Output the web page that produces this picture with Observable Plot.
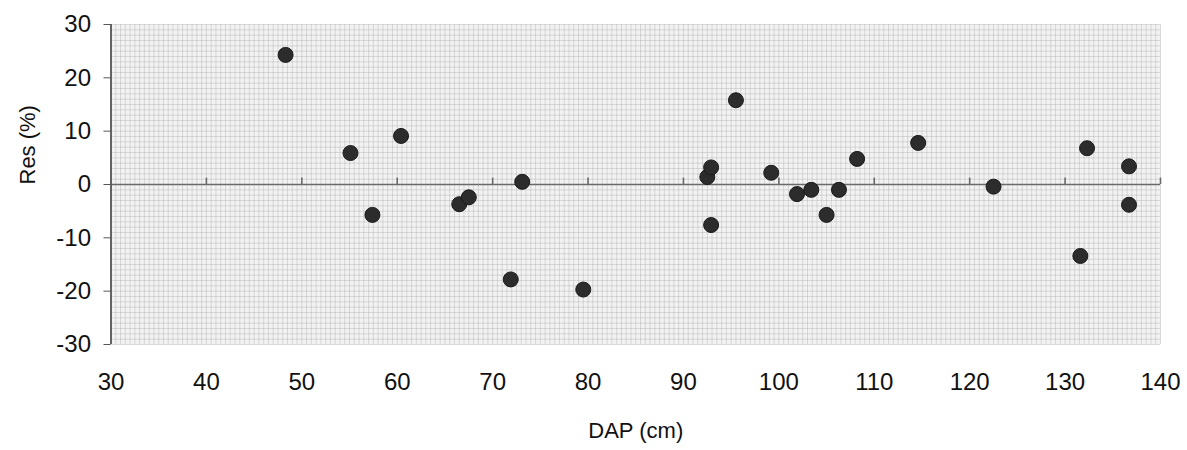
<!DOCTYPE html>
<html>
<head>
<meta charset="utf-8">
<script src="https://cdn.jsdelivr.net/npm/d3@7"></script>
<script src="https://cdn.jsdelivr.net/npm/@observablehq/plot@0.6"></script>
<style>
  html, body { margin: 0; padding: 0; background: #fff; }
  #chart { width: 1187px; height: 450px; }
</style>
</head>
<body>
<div id="chart"></div>
<script>
// Data (DAP in cm, residual in %)
const dap = [48.3, 55.1, 57.4, 60.4, 66.5, 67.5, 71.9, 73.1, 79.5,
             92.5, 92.9, 92.9, 95.5, 99.2, 101.9, 103.4, 105.0, 106.3, 108.2,
             114.6, 122.5, 131.6, 132.3, 136.7, 136.7];
const res = [24.3, 5.9, -5.7, 9.1, -3.7, -2.4, -17.8, 0.5, -19.7,
             1.4, 3.2, -7.6, 15.8, 2.2, -1.8, -1.0, -5.7, -1.0, 4.8,
             7.8, -0.4, -13.4, 6.8, 3.4, -3.8];

const xTicks = [30, 40, 50, 60, 70, 80, 90, 100, 110, 120, 130, 140];
const yTicks = [-30, -20, -10, 0, 10, 20, 30];
const xLabel = "DAP (cm)";
const yLabel = "Res (%)";

// fine graph-paper grid positions
const gridXs = d3.range(30, 140.001, 0.5);
const gridYs = d3.range(-30, 30.001, 1);

const points = dap.map((d, i) => ({dap: d, res: res[i]}));

const chart = Plot.plot({
  width: 1187,
  height: 450,
  marginLeft: 110.5,
  marginRight: 27,
  marginTop: 24,
  marginBottom: 106,
  style: {fontFamily: "'Liberation Sans', Arial, sans-serif", color: "#111", background: "#fff"},
  x: {domain: [30, 140]},
  y: {domain: [-30, 30]},
  marks: [
    Plot.frame({fill: "#f2f2f2", stroke: null}),
    Plot.gridX(gridXs, {stroke: "#b0b0b0", strokeOpacity: 0.55, strokeWidth: 0.8}),
    Plot.gridY(gridYs, {stroke: "#b0b0b0", strokeOpacity: 0.55, strokeWidth: 0.8}),
    Plot.ruleY([0], {stroke: "#6a6a6a", strokeWidth: 1.6}),
    Plot.ruleX(xTicks.slice(1), {y1: 0, y2: 1.2, stroke: "#6a6a6a", strokeWidth: 1.6}),
    Plot.ruleX([30], {stroke: "#555", strokeWidth: 1.8}),
    Plot.axisY(yTicks, {tickSize: 7, tickPadding: 13, fontSize: 24, label: null, stroke: "#555", tickFormat: d => String(d)}),
    Plot.axisX(xTicks, {tickSize: 0, tickPadding: 28, fontSize: 24, label: null, tickFormat: d => String(d)}),
    Plot.text([xLabel], {frameAnchor: "bottom", dy: 93, fontSize: 22, fill: "#111"}),
    Plot.text([yLabel], {frameAnchor: "left", dx: -83, rotate: -90, fontSize: 22, fill: "#111"}),
    Plot.dot(points, {x: "dap", y: "res", r: 7.5, fill: "#2c2c2c", stroke: "#1a1a1a", strokeWidth: 1})
  ]
});
document.getElementById("chart").appendChild(chart);
</script>
</body>
</html>
